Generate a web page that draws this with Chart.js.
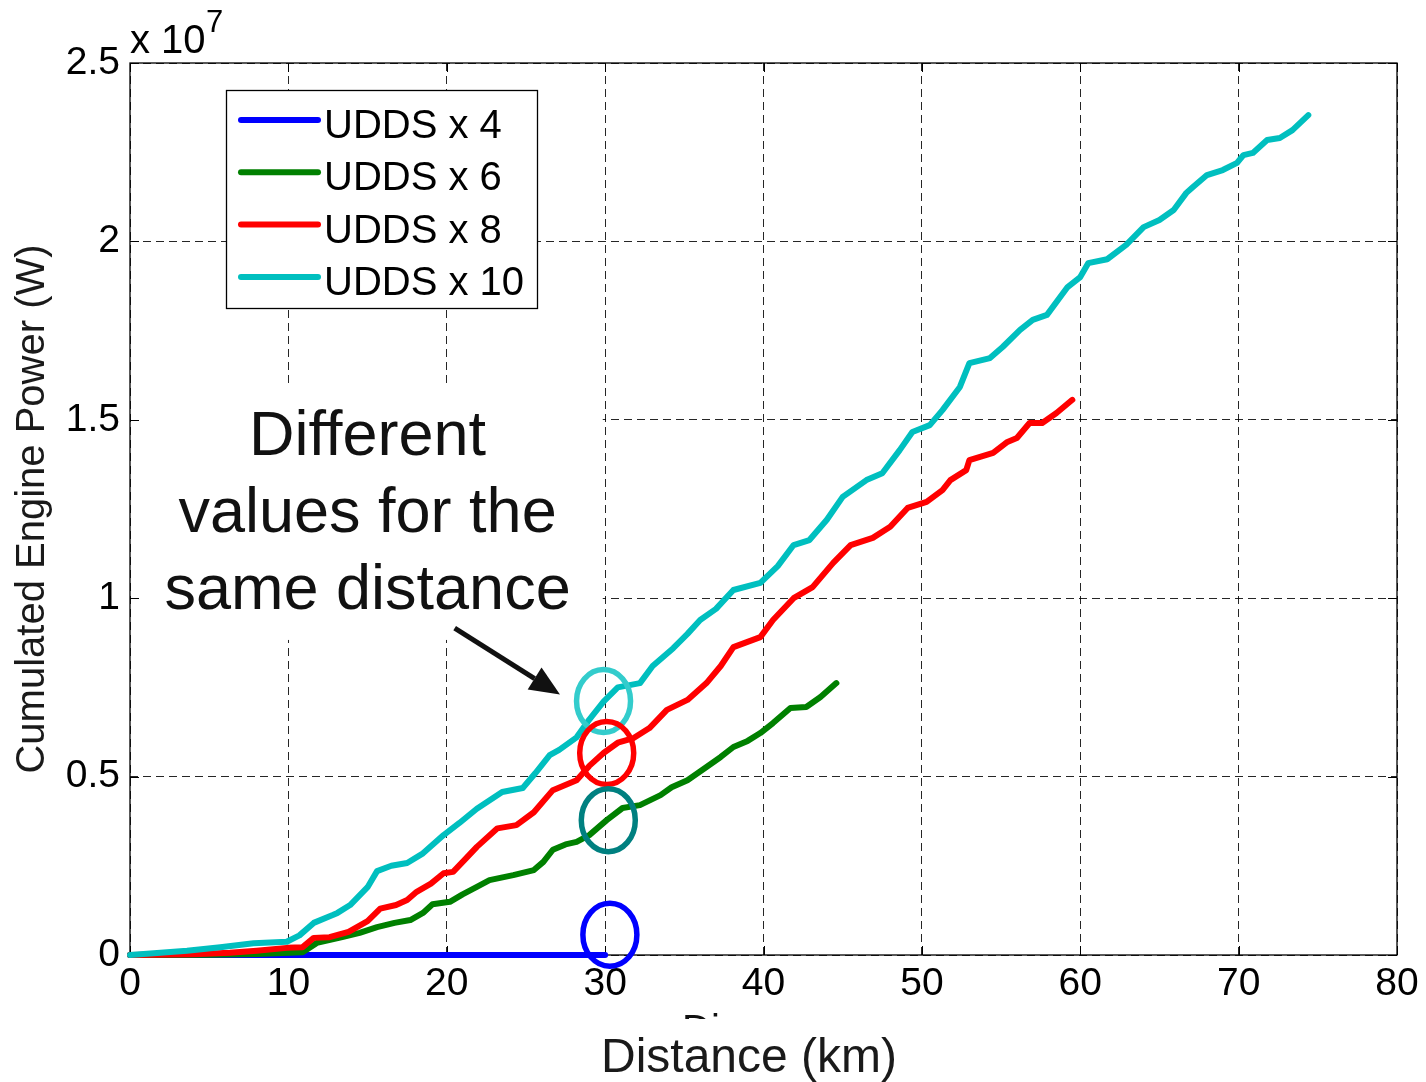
<!DOCTYPE html>
<html><head><meta charset="utf-8">
<script src="https://cdn.jsdelivr.net/npm/chart.js@4.4.1/dist/chart.umd.min.js"></script>
<style>html,body{margin:0;padding:0;background:#fff;}#wrap{width:1426px;height:1082px;}</style>
</head><body><div id="wrap"><canvas id="c" width="1426" height="1082"></canvas></div>
<script>
// values in units of 10^6 W (axis shows x 10^7)
const seriesLabels = ['UDDS x 4', 'UDDS x 6', 'UDDS x 8', 'UDDS x 10'];
const seriesColors = ['#0000ff', '#008000', '#ff0000', '#00bfbf'];

const x4Dist = [0, 30];
const x4Val  = [0, 0];

const x6Dist = [0, 5, 8, 10.9, 11.8, 13.4, 14.5, 15.6, 16.7, 17.7, 18.5, 19.1, 20.2, 21.0, 21.9, 22.7, 24.2, 25.5, 26.1, 26.7, 27.5, 28.2, 29.0, 30.1, 31.1, 32.2, 33.5, 34.2, 35.2, 36.4, 37.3, 38.1, 39.0, 39.8, 40.6, 41.7, 42.7, 43.6, 44.6];
const x6Val  = [0, 0.01, 0.03, 0.08, 0.34, 0.5, 0.62, 0.78, 0.9, 0.98, 1.18, 1.42, 1.49, 1.7, 1.91, 2.1, 2.24, 2.38, 2.61, 2.95, 3.1, 3.17, 3.36, 3.78, 4.12, 4.2, 4.48, 4.7, 4.9, 5.27, 5.55, 5.83, 6.0, 6.22, 6.5, 6.92, 6.95, 7.23, 7.62];

const x8Dist = [0, 4, 6.3, 8, 9.9, 10.9, 11.6, 12.6, 13.8, 15.0, 15.8, 16.8, 17.5, 18.1, 19.0, 19.8, 20.4, 21.2, 21.9, 23.2, 24.4, 25.5, 26.7, 28.2, 29.0, 29.9, 30.8, 31.8, 32.8, 33.9, 35.2, 36.4, 37.3, 38.1, 39.8, 40.6, 41.9, 43.1, 44.4, 45.5, 46.9, 48.0, 49.1, 50.3, 51.3, 51.8, 52.8, 53.0, 54.5, 55.4, 56.0, 56.8, 57.6, 58.5, 59.5];
const x8Val  = [0, 0.02, 0.06, 0.12, 0.2, 0.22, 0.48, 0.5, 0.65, 0.95, 1.3, 1.4, 1.54, 1.77, 2.0, 2.29, 2.33, 2.7, 3.03, 3.55, 3.64, 4.0, 4.62, 4.9, 5.3, 5.66, 5.95, 6.08, 6.36, 6.87, 7.15, 7.62, 8.1, 8.63, 8.91, 9.39, 10.0, 10.31, 10.99, 11.49, 11.69, 12.0, 12.53, 12.7, 13.03, 13.31, 13.59, 13.87, 14.07, 14.38, 14.49, 14.91, 14.91, 15.19, 15.56];

const x10Dist = [0, 1.5, 3.6, 5.7, 7.8, 9.9, 10.7, 11.6, 12.8, 13.1, 13.9, 15.0, 15.6, 16.5, 17.5, 18.5, 19.8, 20.8, 21.9, 23.5, 24.8, 25.6, 26.5, 27.1, 28.2, 29.0, 29.9, 30.8, 32.2, 33.0, 34.3, 35.2, 36.0, 37.0, 38.1, 39.8, 40.9, 41.9, 42.9, 44.0, 45.0, 46.5, 47.5, 48.6, 49.4, 50.5, 51.3, 52.4, 53.0, 54.3, 55.1, 56.2, 57.0, 57.9, 59.2, 60.0, 60.5, 61.7, 62.9, 64.0, 65.0, 65.9, 66.7, 67.1, 68.0, 69.0, 69.9, 70.3, 70.9, 71.8, 72.6, 73.4, 74.4];
const x10Val  = [0, 0.05, 0.12, 0.22, 0.33, 0.37, 0.55, 0.9, 1.12, 1.18, 1.4, 1.9, 2.35, 2.5, 2.58, 2.85, 3.36, 3.7, 4.1, 4.57, 4.68, 5.1, 5.6, 5.75, 6.1, 6.6, 7.1, 7.5, 7.62, 8.1, 8.6, 9.0, 9.39, 9.7, 10.23, 10.43, 10.9, 11.49, 11.63, 12.2, 12.84, 13.31, 13.5, 14.15, 14.66, 14.85, 15.27, 15.92, 16.59, 16.73, 17.04, 17.52, 17.8, 17.94, 18.72, 19.0, 19.39, 19.5, 19.9, 20.4, 20.6, 20.88, 21.36, 21.52, 21.86, 22.0, 22.2, 22.42, 22.48, 22.84, 22.9, 23.12, 23.54];

const yTickLabels = ['0', '0.5', '1', '1.5', '2', '2.5'];
const xTitle = 'Distance (km)';
const noteLines = ['Different', 'values for the', 'same distance'];

// annotation placement (data coordinates)
const noteAnchor = {x: 15.0, y: 14.0};
const noteBox = {x0: 0, x1: 29.85, y0: 8.83, y1: 16.0};
const arrowFrom = {x: 20.5, y: 9.16};
const arrowTo = {x: 27.15, y: 7.30};
const rings = [
  {x: 29.9, y: 7.12, color: '#33cccc'},
  {x: 30.1, y: 5.66, color: '#ff0000'},
  {x: 30.2, y: 3.78, color: '#008080'},
  {x: 30.3, y: 0.57, color: '#0000ff'}
];

const FONT = '"Liberation Sans", Arial, Helvetica, sans-serif';

function mk(i, xs, ys, order) {
  return {
    label: seriesLabels[i],
    borderColor: seriesColors[i],
    backgroundColor: seriesColors[i],
    data: xs.map((x, k) => ({x: x, y: ys[k]})),
    borderWidth: 6, pointRadius: 0, pointHoverRadius: 0, tension: 0,
    borderCapStyle: 'round', borderJoinStyle: 'round', fill: false, order: order,
    clip: false
  };
}

const overlay = {
  id: 'overlay',
  beforeDatasetsDraw(chart) {
    const {ctx, chartArea: a, scales: {x, y}} = chart;
    ctx.save();
    // white background behind annotation text
    ctx.fillStyle = '#fff';
    const bx0 = x.getPixelForValue(noteBox.x0) + 1, bx1 = x.getPixelForValue(noteBox.x1);
    const by0 = y.getPixelForValue(noteBox.y1), by1 = y.getPixelForValue(noteBox.y0);
    ctx.fillRect(bx0, by0, bx1 - bx0, by1 - by0);
    // frame
    ctx.strokeStyle = '#000';
    ctx.lineWidth = 1.3;
    ctx.setLineDash([]);
    ctx.strokeRect(a.left, a.top, a.right - a.left, a.bottom - a.top);
    // inner ticks
    ctx.lineWidth = 1;
    const tl = 9;
    x.ticks.forEach(t => {
      const px = Math.round(x.getPixelForValue(t.value)) + 0.5;
      ctx.beginPath();
      ctx.moveTo(px, a.bottom); ctx.lineTo(px, a.bottom - tl);
      ctx.moveTo(px, a.top); ctx.lineTo(px, a.top + tl);
      ctx.stroke();
    });
    y.ticks.forEach(t => {
      const py = Math.round(y.getPixelForValue(t.value)) + 0.5;
      ctx.beginPath();
      ctx.moveTo(a.left, py); ctx.lineTo(a.left + tl, py);
      ctx.moveTo(a.right, py); ctx.lineTo(a.right - tl, py);
      ctx.stroke();
    });
    ctx.restore();
  },
  afterDatasetsDraw(chart) {
    const {ctx, chartArea: a, scales: {x, y}} = chart;
    ctx.save();
    // legend
    const lx = a.left + 96, ly = a.top + 27, lw = 311, lh = 218;
    ctx.fillStyle = '#fff';
    ctx.fillRect(lx, ly, lw, lh);
    ctx.strokeStyle = '#000';
    ctx.lineWidth = 1.3;
    ctx.strokeRect(lx + 0.5, ly + 0.5, lw, lh);
    ctx.font = '40px ' + FONT;
    ctx.textBaseline = 'alphabetic';
    ctx.textAlign = 'left';
    chart.data.datasets.forEach((ds, i) => {
      const rowY = ly + 30 + i * 52.3;
      ctx.strokeStyle = ds.borderColor;
      ctx.lineWidth = 6;
      ctx.lineCap = 'round';
      ctx.beginPath();
      ctx.moveTo(lx + 15, rowY); ctx.lineTo(lx + 92, rowY);
      ctx.stroke();
      ctx.fillStyle = '#000';
      ctx.fillText(ds.label, lx + 98, rowY + 18);
    });
    // rings
    rings.forEach(r => {
      ctx.strokeStyle = r.color;
      ctx.lineWidth = 5.5;
      ctx.beginPath();
      ctx.ellipse(x.getPixelForValue(r.x), y.getPixelForValue(r.y), 27, 31.5, 0, 0, Math.PI * 2);
      ctx.stroke();
    });
    // annotation text
    ctx.fillStyle = '#111';
    ctx.font = '63px ' + FONT;
    ctx.textAlign = 'center';
    const tx = x.getPixelForValue(noteAnchor.x), ty = y.getPixelForValue(noteAnchor.y);
    noteLines.forEach((s, i) => ctx.fillText(s, tx, ty + i * 77));
    // arrow
    const x0 = x.getPixelForValue(arrowFrom.x), y0 = y.getPixelForValue(arrowFrom.y);
    const x1 = x.getPixelForValue(arrowTo.x), y1 = y.getPixelForValue(arrowTo.y);
    const ang = Math.atan2(y1 - y0, x1 - x0);
    const hl = 30, hw = 13;
    const bx = x1 - hl * Math.cos(ang), byy = y1 - hl * Math.sin(ang);
    ctx.strokeStyle = '#111';
    ctx.lineWidth = 5;
    ctx.lineCap = 'butt';
    ctx.beginPath();
    ctx.moveTo(x0, y0); ctx.lineTo(bx, byy);
    ctx.stroke();
    ctx.fillStyle = '#111';
    ctx.beginPath();
    ctx.moveTo(x1, y1);
    ctx.lineTo(bx + hw * Math.sin(ang), byy - hw * Math.cos(ang));
    ctx.lineTo(bx - hw * Math.sin(ang), byy + hw * Math.cos(ang));
    ctx.closePath();
    ctx.fill();
    // exponent label
    ctx.fillStyle = '#000';
    ctx.textAlign = 'left';
    ctx.font = '40px ' + FONT;
    ctx.fillText('x 10', a.left, a.top - 10);
    ctx.font = '31px ' + FONT;
    ctx.fillText('7', a.left + 76, a.top - 31);
    // x axis title
    ctx.fillStyle = '#1a1a1a';
    ctx.font = '48px ' + FONT;
    ctx.textAlign = 'center';
    ctx.fillText(xTitle, 749, 1072);
    // partially hidden label remnant
    ctx.save();
    ctx.beginPath();
    ctx.rect(670, 1013, 60, 6);
    ctx.clip();
    ctx.fillStyle = '#111';
    ctx.font = '40px ' + FONT;
    ctx.textAlign = 'left';
    ctx.fillText('Di', 682, 1043);
    ctx.restore();
    ctx.restore();
  }
};

new Chart(document.getElementById('c'), {
  type: 'line',
  data: {
    datasets: [
      mk(0, x4Dist, x4Val, 4),
      mk(1, x6Dist, x6Val, 3),
      mk(2, x8Dist, x8Val, 2),
      mk(3, x10Dist, x10Val, 1)
    ]
  },
  options: {
    responsive: false,
    animation: false,
    devicePixelRatio: 1,
    layout: {padding: {top: 63, right: 29, left: 0, bottom: 0}},
    plugins: {legend: {display: false}, tooltip: {enabled: false}},
    scales: {
      x: {
        type: 'linear', min: 0, max: 80,
        ticks: {stepSize: 10, color: '#000', padding: 10, maxRotation: 0, autoSkip: false,
                font: {family: FONT, size: 39, lineHeight: 1}},
        grid: {color: 'rgba(0,0,0,0.85)', lineWidth: 1, drawTicks: false},
        border: {display: false, dash: [8, 5]},
        title: {display: false},
        afterFit: s => { s.height = 127; s.paddingLeft = 0; s.paddingRight = 0; }
      },
      y: {
        type: 'linear', min: 0, max: 25,
        ticks: {stepSize: 5, color: '#000', padding: 10,
                font: {family: FONT, size: 39, lineHeight: 1},
                callback: (v, i) => yTickLabels[i]},
        grid: {color: 'rgba(0,0,0,0.85)', lineWidth: 1, drawTicks: false},
        border: {display: false, dash: [8, 5]},
        title: {display: true, text: 'Cumulated Engine Power (W)', color: '#1a1a1a',
                font: {family: FONT, size: 40, lineHeight: 1}, padding: {top: 13, bottom: 0}},
        afterFit: s => { s.width = 130; s.paddingTop = 0; s.paddingBottom = 0; }
      }
    }
  },
  plugins: [overlay]
});
</script>
</body></html>
